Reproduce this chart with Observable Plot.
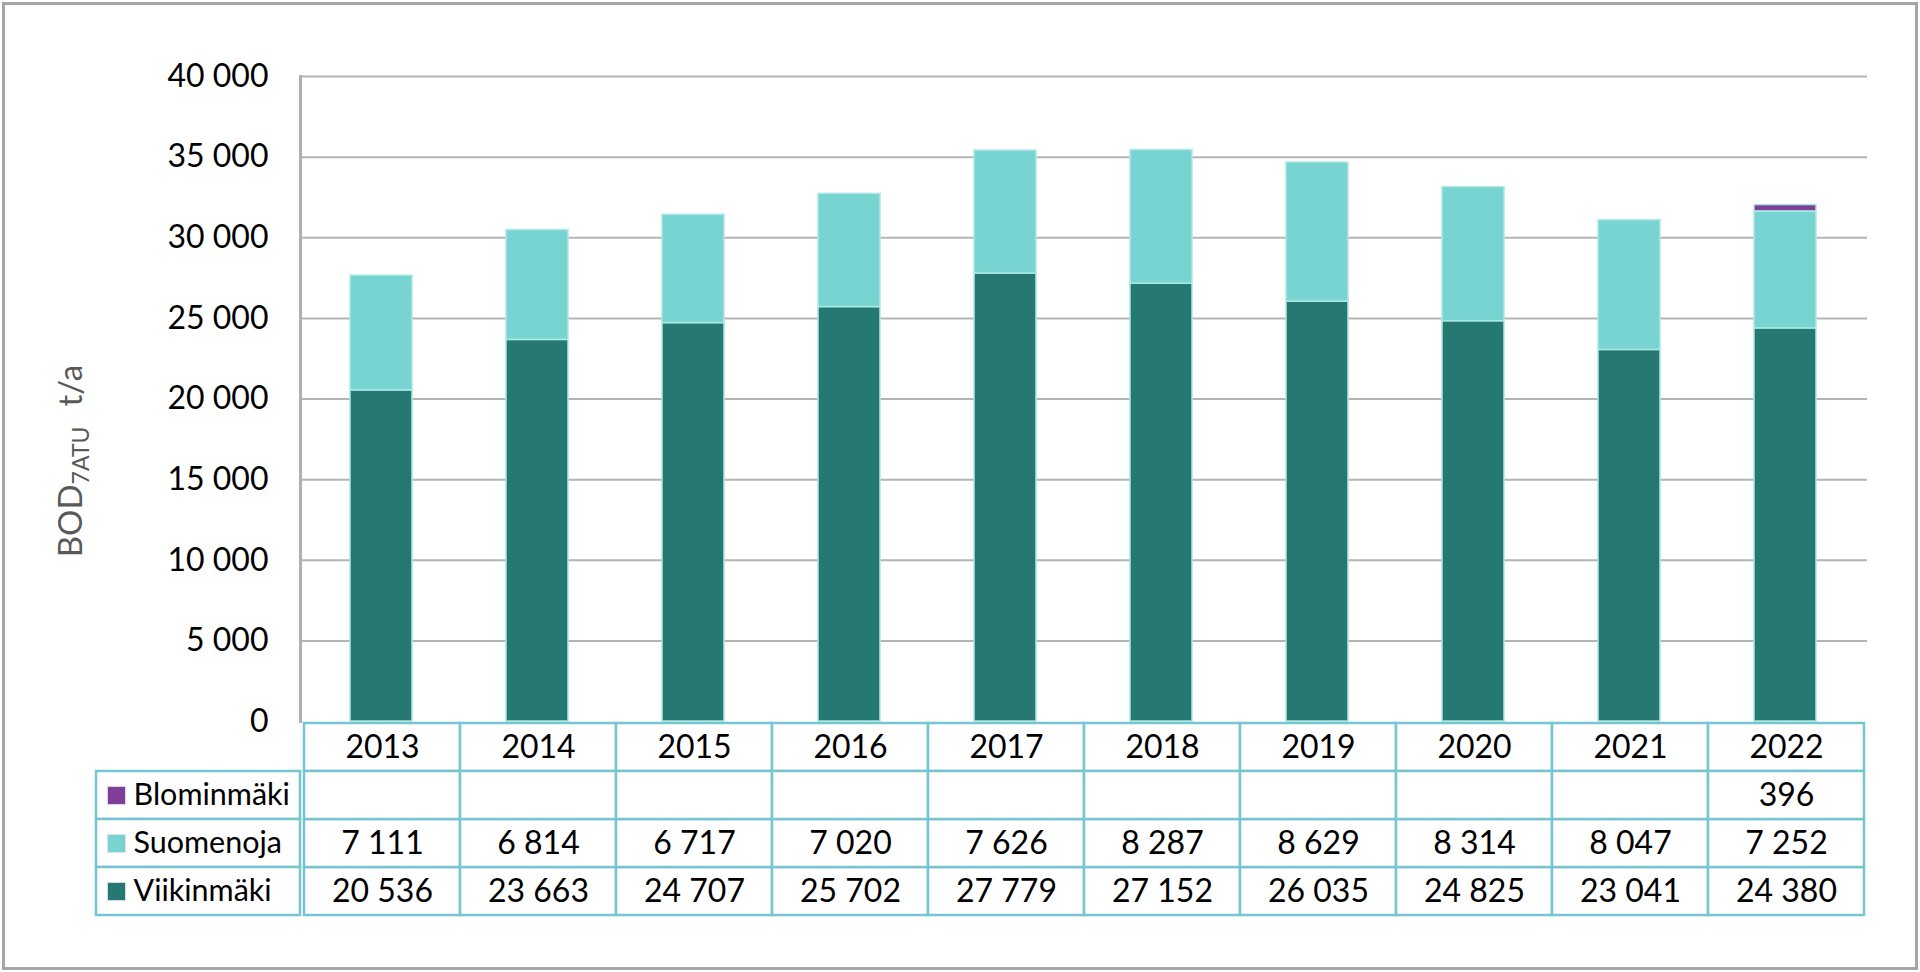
<!DOCTYPE html>
<html>
<head>
<meta charset="utf-8">
<script src="https://cdn.jsdelivr.net/npm/d3@7"></script>
<script src="https://cdn.jsdelivr.net/npm/@observablehq/plot@0.6"></script>
<style>
  html, body { margin: 0; padding: 0; background: white; overflow: hidden; }
  #wrap { position: relative; width: 1920px; height: 972px; background: white; }
  #border { position: absolute; left: 2px; top: 2px; width: 1910px; height: 962px; border: 3px solid #a6a6a6; }
  .layer { position: absolute; }
</style>
</head>
<body>
<div id="wrap">
  <div id="border"></div>
  <div id="chart" class="layer" style="left:0;top:0;"></div>
  <div id="table" class="layer" style="left:0;top:721px;"></div>
  <div id="legend" class="layer" style="left:96px;top:721px;"></div>
</div>
<script>
// ---- data ----
const years = ["2013", "2014", "2015", "2016", "2017", "2018", "2019", "2020", "2021", "2022"];
const viikinmaki = [20536, 23663, 24707, 25702, 27779, 27152, 26035, 24825, 23041, 24380];
const suomenoja = [7111, 6814, 6717, 7020, 7626, 8287, 8629, 8314, 8047, 7252];
const blominmaki = [null, null, null, null, null, null, null, null, null, 396];
const seriesNames = ["Viikinmäki", "Suomenoja", "Blominmäki"];
const seriesColors = ["#267872", "#78d4d0", "#7f3f98"];
const yTicks = [0, 5000, 10000, 15000, 20000, 25000, 30000, 35000, 40000];
const tableRows = ["year", "Blominmäki", "Suomenoja", "Viikinmäki"];

const seriesValues = {"Viikinmäki": viikinmaki, "Suomenoja": suomenoja, "Blominmäki": blominmaki};
const fmt = d => d3.format(",")(d).replace(/,/g, " ");
const font = "Lato, 'Open Sans', sans-serif";
const tableStroke = "#76c6cf";

// stacked data in drawing order (bottom to top)
const data = [];
years.forEach((yr, i) => {
  seriesNames.forEach(s => {
    const v = seriesValues[s][i];
    if (v != null) data.push({year: yr, series: s, value: v});
  });
});

// ---- chart ----
const chart = Plot.plot({
  width: 1920, height: 721,
  marginLeft: 300, marginRight: 53, marginTop: 76, marginBottom: 0,
  style: {fontFamily: font, fontSize: "32px", color: "black", background: "transparent", overflow: "visible"},
  x: {domain: years, paddingInner: 0.6, paddingOuter: 0.3, axis: null},
  y: {domain: [0, 40000], axis: null},
  color: {domain: seriesNames, range: seriesColors},
  marks: [
    Plot.gridY(yTicks.filter(d => d > 0), {stroke: "#b4b4b4", strokeOpacity: 1, strokeWidth: 2}),
    Plot.frame({anchor: "left", stroke: "#b0b0b0", strokeWidth: 3}),
    Plot.barY(data, {x: "year", y: "value", fill: "series", stroke: "#aee8e5", strokeWidth: 1.5}),
    Plot.axisY(yTicks, {tickSize: 0, tickPadding: 32, tickFormat: fmt, fontSize: 32, fill: "black", label: null})
  ]
});
document.getElementById("chart").appendChild(chart);

// y-axis title with subscript
const svg = d3.select(chart);
const t = svg.append("text")
  .attr("transform", "translate(82,461) rotate(-90)")
  .attr("text-anchor", "middle")
  .attr("fill", "#595959")
  .attr("font-family", font)
  .attr("font-size", 33);
t.append("tspan").text("BOD");
t.append("tspan").attr("font-size", 23).attr("dy", 7).text("7ATU");
t.append("tspan").attr("dy", -7).attr("dx", 20).text("t/a");

// ---- table ----
const cells = [];
years.forEach((yr, i) => {
  cells.push({year: yr, row: "year", label: yr});
  seriesNames.forEach(s => {
    const v = seriesValues[s][i];
    cells.push({year: yr, row: s, label: v == null ? "" : fmt(v)});
  });
});
const table = Plot.plot({
  width: 1920, height: 195,
  marginLeft: 300, marginRight: 53, marginTop: 0, marginBottom: 0,
  style: {fontFamily: font, fontSize: "32px", color: "black", background: "transparent", overflow: "visible"},
  x: {domain: years, padding: 0, axis: null},
  y: {domain: tableRows, padding: 0, axis: null},
  marks: [
    Plot.cell(cells, {x: "year", y: "row", fill: "white", stroke: tableStroke, strokeWidth: 2.5}),
    Plot.text(cells, {x: "year", y: "row", text: "label", fontSize: 32, fill: "black"})
  ]
});
document.getElementById("table").appendChild(table);

// ---- legend column ----
const legendRows = ["Blominmäki", "Suomenoja", "Viikinmäki"];
const legend = Plot.plot({
  width: 204, height: 195,
  margin: 0,
  style: {fontFamily: font, fontSize: "32px", color: "black", background: "transparent", overflow: "visible"},
  y: {domain: tableRows, padding: 0, axis: null},
  color: {domain: seriesNames, range: seriesColors},
  marks: [
    Plot.cell(legendRows, {y: d => d, fill: "white", stroke: tableStroke, strokeWidth: 2.5}),
    Plot.dot(legendRows, {y: d => d, frameAnchor: "left", dx: 20, symbol: "square", r: 10.3, fill: d => d, stroke: "#e8e0f0", strokeWidth: 1}),
    Plot.text(legendRows, {y: d => d, frameAnchor: "left", dx: 37, textAnchor: "start", text: d => d, fontSize: 30.5, fill: "black"})
  ]
});
document.getElementById("legend").appendChild(legend);
</script>
</body>
</html>
